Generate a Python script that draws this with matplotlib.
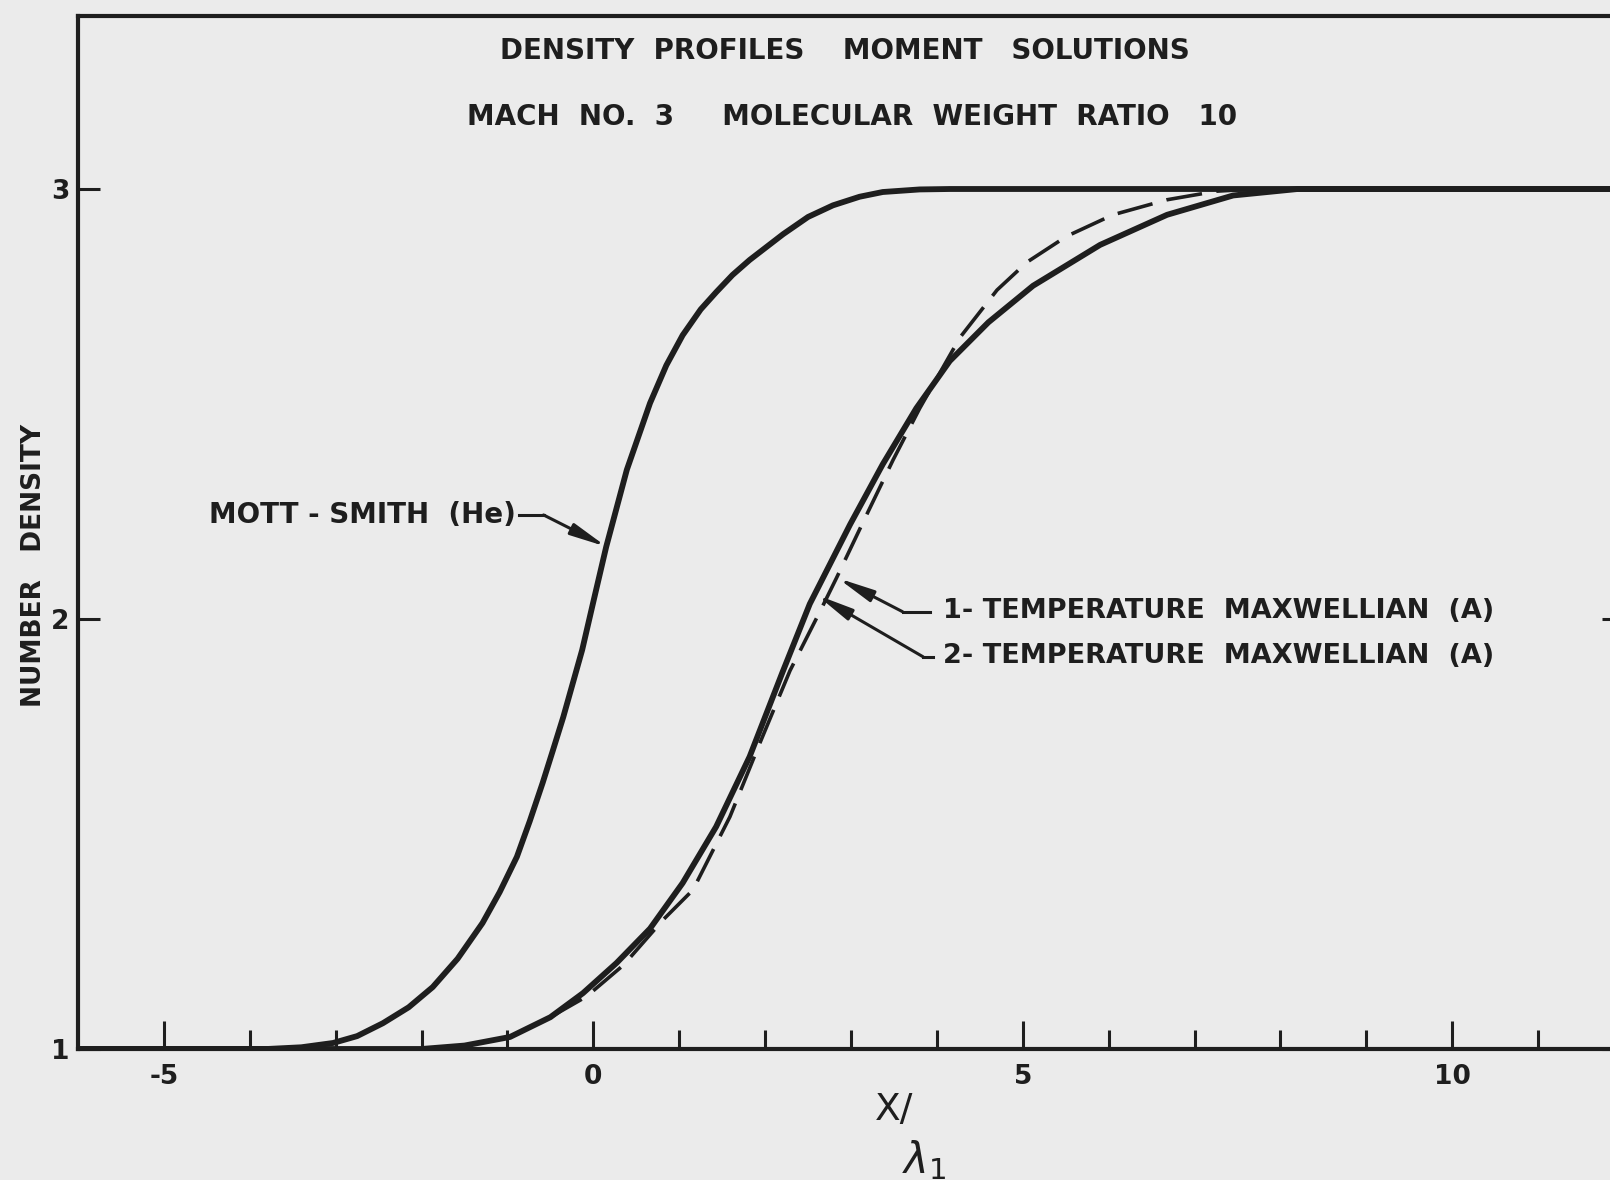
import matplotlib
matplotlib.use('Agg')
import matplotlib.pyplot as plt

# curves (x / lambda_1 , number density)
mott_x = [-6.0, -3.8, -3.4, -3.03, -2.75, -2.45, -2.15, -1.87, -1.58, -1.29, -1.09, -0.89,
          -0.74, -0.59, -0.47, -0.35, -0.13, 0.0, 0.15, 0.39, 0.66, 0.85, 1.04, 1.25, 1.43,
          1.62, 1.82, 2.21, 2.5, 2.79, 3.1, 3.37, 3.8, 4.15, 12.0]
mott_y = [1.0, 1.0, 1.004, 1.014, 1.03, 1.06, 1.097, 1.144, 1.21, 1.293, 1.365, 1.447,
          1.53, 1.619, 1.695, 1.772, 1.928, 2.04, 2.168, 2.347, 2.502, 2.59, 2.66, 2.72, 2.76,
          2.80, 2.835, 2.895, 2.935, 2.962, 2.982, 2.993, 2.999, 3.0, 3.0]

two_x = [-6.0, -2.0, -1.5, -0.97, -0.5, -0.12, 0.27, 0.66, 1.04, 1.43, 1.82, 2.2, 2.52,
         2.99, 3.37, 3.76, 4.15, 4.6, 5.12, 5.9, 6.68, 7.45, 8.2, 12.0]
two_y = [1.0, 1.0, 1.008, 1.028, 1.074, 1.13, 1.2, 1.28, 1.386, 1.517, 1.68, 1.875, 2.035,
         2.22, 2.36, 2.49, 2.60, 2.69, 2.775, 2.87, 2.94, 2.985, 3.0, 3.0]

one_x = [-0.5, -0.08, 0.35, 0.81, 1.16, 1.59, 1.94, 2.29, 2.67, 2.83, 3.14, 3.49, 3.8,
         4.27, 4.7, 5.05, 5.51, 6.05, 6.68, 7.26, 7.7]
one_y = [1.074, 1.122, 1.195, 1.30, 1.37, 1.54, 1.712, 1.88, 2.03, 2.095, 2.225, 2.37, 2.49,
         2.655, 2.765, 2.83, 2.89, 2.94, 2.975, 2.995, 3.0]

xticks_major = [-5, 0, 5, 10]
xticks_minor = [-4, -3, -2, -1, 1, 2, 3, 4, 6, 7, 8, 9, 11]
yticks = [1, 2, 3]

ink = '#1e1e1e'
paper = '#ebebeb'

fig = plt.figure(figsize=(16.1, 11.8), dpi=100, facecolor=paper)
ax = fig.add_axes([78 / 1610, 1 - 1049 / 1180, (1624 - 78) / 1610, (1049 - 16) / 1180])
ax.set_facecolor(paper)

ax.plot(mott_x, mott_y, color=ink, lw=4.2, solid_capstyle='round', solid_joinstyle='round')
ax.plot(two_x, two_y, color=ink, lw=4.2, solid_capstyle='round', solid_joinstyle='round')
ax.plot(one_x, one_y, color=ink, lw=2.6, linestyle=(0, (10, 4)))

ax.set_xlim(-6, 12.0)
ax.set_ylim(1, 3 + 173 / 430)

for s in ['left', 'bottom', 'top']:
    ax.spines[s].set_linewidth(3.0)
    ax.spines[s].set_color(ink)
ax.spines['right'].set_visible(False)

ax.set_xticks(xticks_major)
ax.set_xticklabels(['-5', '0', '5', '10'])
ax.set_xticks(xticks_minor, minor=True)
ax.set_yticks(yticks)
ax.set_yticklabels(['1', '2', '3'])
ax.tick_params(axis='x', which='major', direction='in', length=20, width=2.2, color=ink,
               pad=11, labelsize=19, labelcolor=ink)
ax.tick_params(axis='x', which='minor', direction='in', length=14, width=2.2, color=ink)
ax.tick_params(axis='y', which='major', direction='in', length=16, width=2.2, color=ink,
               pad=6, labelsize=19, labelcolor=ink, right=True)
for lab in ax.get_xticklabels() + ax.get_yticklabels():
    lab.set_fontweight('bold')

tkw = dict(fontsize=20, fontweight='bold', color=ink)
fig.text(845 / 1610, 1 - 51 / 1180, 'DENSITY  PROFILES    MOMENT   SOLUTIONS',
         ha='center', va='center', **tkw)
fig.text(852 / 1610, 1 - 117 / 1180, 'MACH  NO.  3     MOLECULAR  WEIGHT  RATIO   10',
         ha='center', va='center', **tkw)
fig.text(34 / 1610, 1 - 565 / 1180, 'NUMBER   DENSITY', rotation=90,
         ha='center', va='center', fontsize=19, fontweight='bold', color=ink)

# x / lambda_1 label
fig.text(894 / 1610, 1 - 1110 / 1180, 'X/', ha='center', va='center',
         fontsize=27, color=ink)
fig.text(924 / 1610, 1 - 1160 / 1180, r'$\lambda_1$', ha='center', va='center',
         fontsize=30, color=ink)

# callouts
akw = dict(arrowstyle='-|>,head_length=1.2,head_width=0.2', color=ink, lw=2.2,
           mutation_scale=18, shrinkA=0, shrinkB=0)
ax.text(-4.48, 2.242, 'MOTT - SMITH  (He)', ha='left', va='center', **tkw)
ax.plot([-0.86, -0.58], [2.242, 2.242], color=ink, lw=2.2)
ax.annotate('', xy=(0.154, 2.168), xytext=(-0.58, 2.242), arrowprops=akw)

lkw = dict(fontsize=19.5, fontweight='bold', color=ink)
ax.text(4.07, 2.019, '1- TEMPERATURE  MAXWELLIAN  (A)', ha='left', va='center', **lkw)
ax.plot([3.60, 3.92], [2.017, 2.017], color=ink, lw=2.2)
ax.annotate('', xy=(2.846, 2.095), xytext=(3.60, 2.017), arrowprops=akw)

ax.text(4.07, 1.913, '2- TEMPERATURE  MAXWELLIAN  (A)', ha='left', va='center', **lkw)
ax.plot([3.84, 3.95], [1.912, 1.912], color=ink, lw=2.2)
ax.annotate('', xy=(2.60, 2.056), xytext=(3.84, 1.912), arrowprops=akw)

fig.savefig('out.png', dpi=100, facecolor=paper)
